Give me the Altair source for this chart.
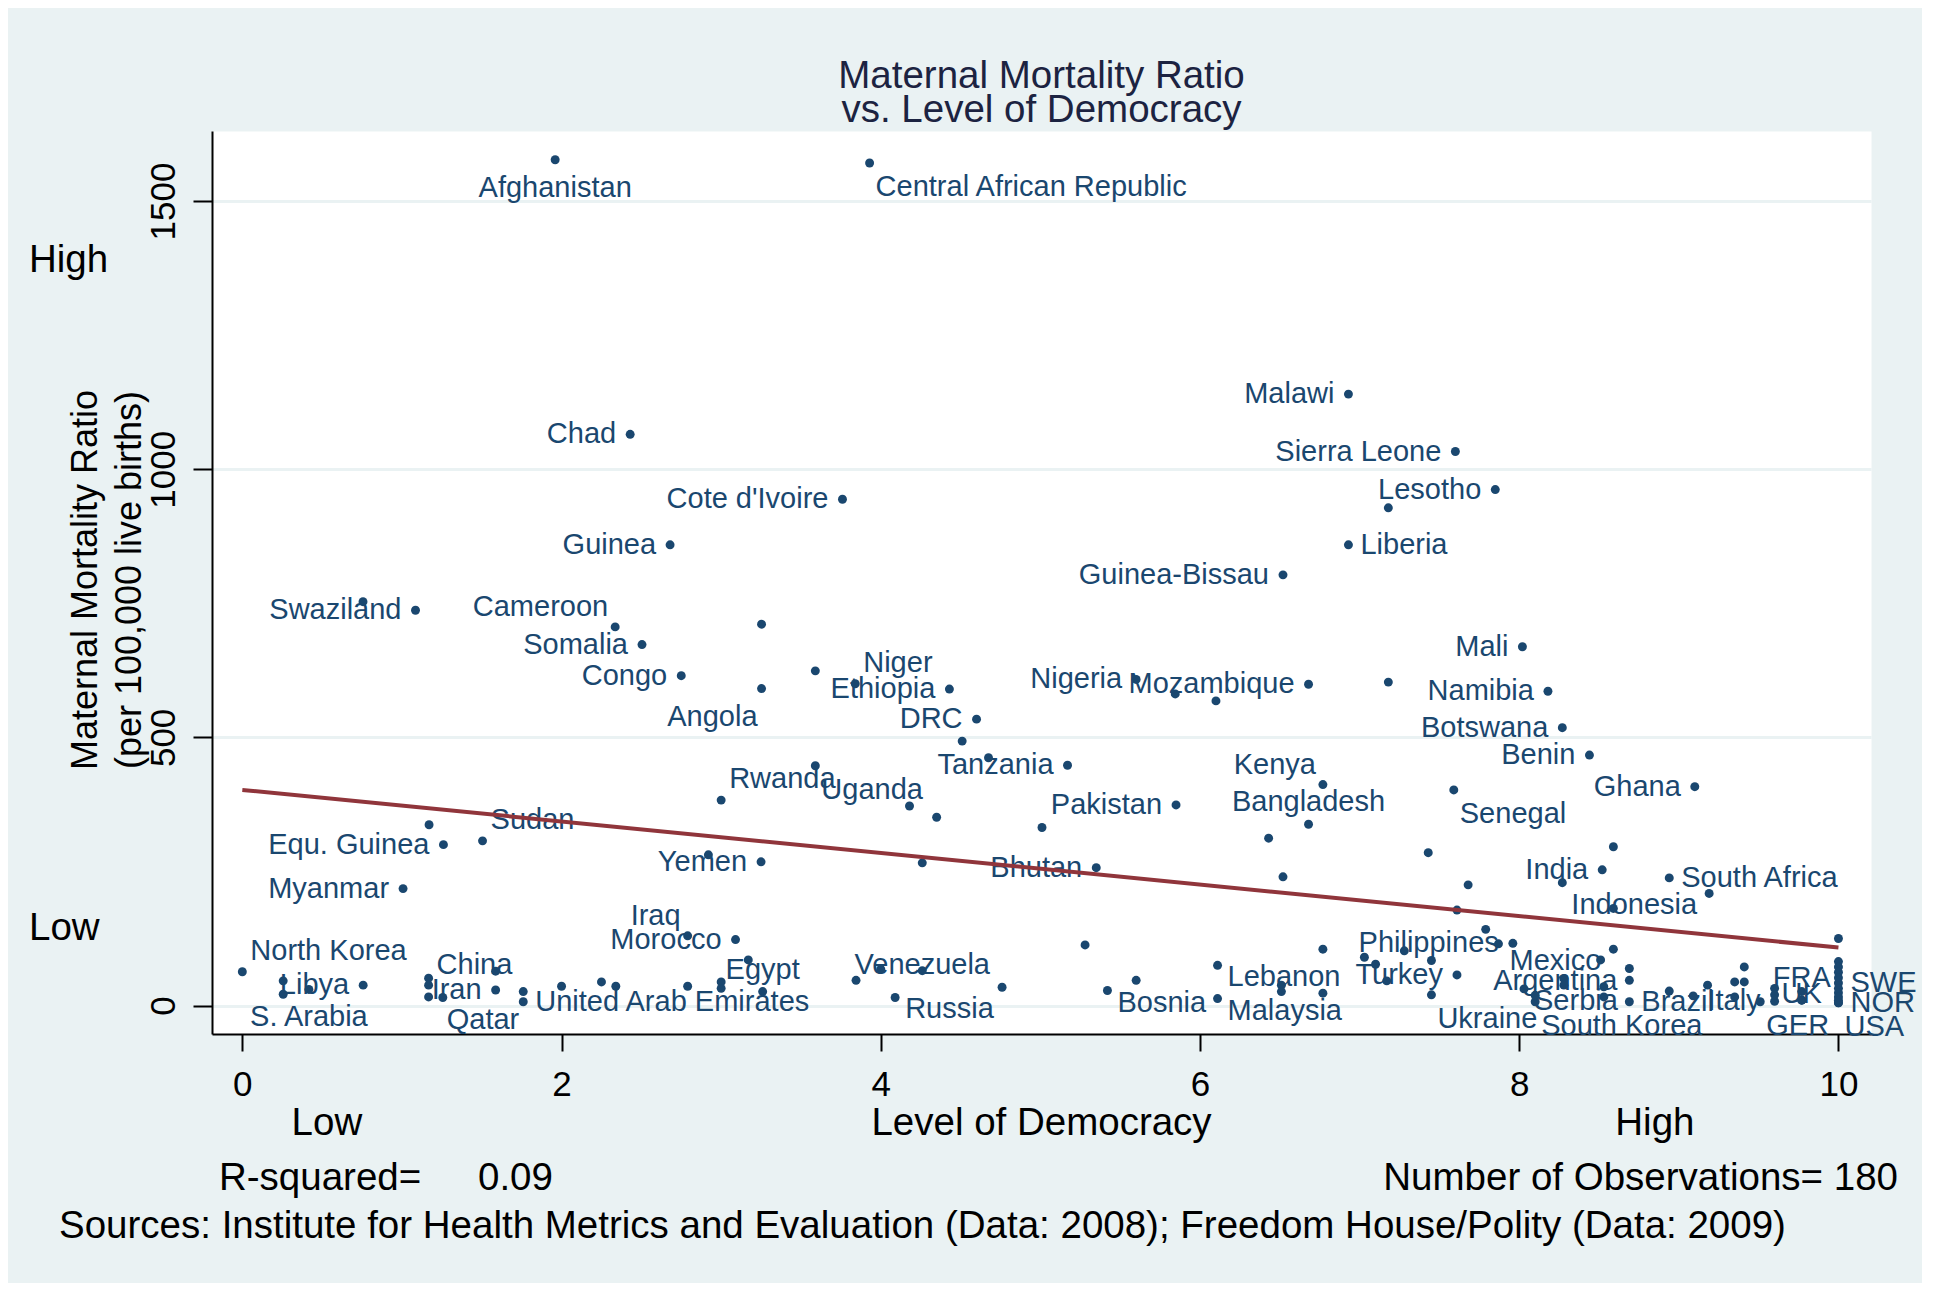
import altair as alt
import pandas as pd

# ---------------- data ----------------
names = ["Afghanistan", "Central African Republic", "Chad", "Cote d'Ivoire", "Guinea",
         "Malawi", "Sierra Leone", "Lesotho", "Liberia", "Guinea-Bissau",
         "Swaziland", "Cameroon", "Somalia", "Congo", "Angola",
         "Niger", "Ethiopia", "DRC", "Tanzania", "Nigeria",
         "Mozambique", "Rwanda", "Uganda", "Pakistan", "Kenya",
         "Bangladesh", "Bhutan", "Sudan", "Equ. Guinea", "Myanmar",
         "Yemen", "Iraq", "Morocco", "Egypt", "North Korea",
         "Libya", "S. Arabia", "China", "Iran", "Qatar",
         "United Arab Emirates", "Venezuela", "Russia", "Bosnia", "Lebanon",
         "Malaysia", "Philippines", "Turkey", "Ukraine", "Mali",
         "Namibia", "Botswana", "Benin", "Ghana", "Senegal",
         "India", "South Africa", "Indonesia", "Mexico", "Argentina",
         "Serbia", "South Korea", "Brazil", "Italy", "FRA",
         "UK", "GER", "SWE", "NOR", "USA"]
lab_x = [1.96, 3.93, 2.43, 3.76, 2.68, 6.93, 7.60, 7.85, 6.93, 6.52,
         1.085, 2.336, 2.504, 2.75, 3.253, 3.84, 4.43, 4.60, 5.17, 5.60,
         6.68, 3.0, 3.59, 5.85, 6.77, 6.68, 5.35, 1.505, 1.26, 1.007,
         3.25, 2.79, 3.09, 3.26, 0.0, 0.757, 0.417, 1.167, 1.587, 1.76,
         1.76, 4.26, 4.09, 5.42, 6.11, 6.11, 7.96, 7.61, 7.45, 8.02,
         8.18, 8.27, 8.44, 9.10, 7.59, 8.52, 8.94, 9.19, 8.59, 8.69,
         8.03, 8.10, 8.69, 9.60, 9.77, 9.77, 9.51, 10, 10, 10]
lab_y = [1577, 1571, 1065, 944, 859, 1140, 1033, 962, 859, 803,
         737, 706, 673, 615, 591, 600, 590, 534, 448, 608,
         599, 383, 447, 374, 412, 338, 257, 307, 300, 218,
         268, 130, 123, 26, 63, 38, 30, 51, 29, 26,
         7, 65, 15, 28, 75, 13, 116, 57, 20, 669,
         586, 518, 467, 408, 402, 253, 238, 209, 105, 69,
         31, 7, 7, 8, 10, 10, 7, 42, 5, 5]
# Stata-style clock position of each marker label (0 = on the marker)
lab_pos = [6, 5, 9, 9, 9, 9, 9, 9, 3, 9,
           9, 11, 9, 9, 7, 1, 9, 9, 9, 9,
           9, 1, 5, 9, 11, 12, 9, 1, 9, 9,
           9, 11, 9, 12, 1, 9, 6, 2, 9, 7,
           3, 0, 4, 4, 4, 4, 9, 9, 5, 9,
           9, 9, 9, 9, 5, 9, 3, 8, 8, 8,
           4, 5, 3, 9, 12, 0, 5, 3, 3, 5]

other_x = [0.756, 7.18, 3.253, 3.59, 4.51, 4.675, 5.845, 6.10, 7.18, 4.18,
           4.35, 1.17, 2.92, 5.01, 6.43, 6.52, 7.43, 4.26, 5.28, 6.77,
           7.03, 7.10, 7.28, 7.45, 7.17, 7.61, 7.79, 7.87, 8.59, 8.27,
           7.68, 8.59, 8.51, 8.28, 8.28, 8.53, 8.53, 8.69, 8.10, 8.94,
           9.09, 9.18, 9.35, 9.35, 9.41, 9.41, 9.60, 9.60, 10, 10,
           10, 10, 10, 10, 10, 10, 0.256, 0.256, 1.587, 1.167,
           1.167, 1.256, 2.0, 2.25, 2.34, 2.79, 3.0, 3.0, 3.17, 3.845,
           4.0, 4.76, 5.60, 6.51, 6.51, 6.77, 9.77, 10]
other_y = [753, 928, 711, 624, 493, 462, 581, 568, 603, 372,
           351, 337, 281, 332, 312, 240, 285, 266, 113, 105,
           90, 77, 102, 84, 46, 178, 142, 115, 296, 229,
           225, 181, 85, 50, 38, 35, 16, 47, 19, 27,
           18, 38, 44, 16, 72, 44, 32, 20, 125, 82,
           72, 62, 52, 32, 24, 10, 46, 21, 64, 38,
           16, 15, 36, 44, 36, 36, 44, 32, 85, 47,
           68, 34, 47, 38, 26, 23, 26, 16]

fit_x = [0, 10]
fit_y = [402, 108]

side_labels = ["High", "Low"]
side_y = [1390, 144]
bottom_labels = ["Low", "High"]
bottom_x = [0.53, 8.85]

x_ticks = [0, 2, 4, 6, 8, 10]
y_ticks = [0, 500, 1000, 1500]

title_lines = ["Maternal Mortality Ratio", "vs. Level of Democracy"]
y_title = "Maternal Mortality Ratio\n(per 100,000 live births)"
x_title = "Level of Democracy"
r2_label, r2_value = "R-squared=", "0.09"
n_obs = "Number of Observations= 180"
sources = ("Sources: Institute for Health Metrics and Evaluation (Data: 2008); "
           "Freedom House/Polity (Data: 2009)")

# ---------------- styling ----------------
W, H = 1659, 903
BG = "#EAF2F3"
GRID = "#EAF2F3"
NAVY = "#1A476F"
MAROON = "#90353B"
TXT = "#000000"
FONT = "Liberation Sans"
BIG = 38.5
LAB = 29

lab_df = pd.DataFrame({"name": names, "x": lab_x, "y": lab_y, "pos": lab_pos})
pts_df = pd.DataFrame({"x": lab_x + other_x, "y": lab_y + other_y})
fit_df = pd.DataFrame({"x": fit_x, "y": fit_y})

xscale = alt.Scale(domain=[-0.19, 10.204], nice=False, zero=False)
yscale = alt.Scale(domain=[-53.1, 1630.6], nice=False, zero=False)

xaxis = alt.Axis(values=x_ticks, title=None, grid=False, domainColor="black",
                 domainWidth=2, tickColor="black", tickWidth=2, tickSize=17,
                 labelFontSize=35, labelColor=TXT, labelFont=FONT,
                 labelPadding=44, labelBaseline="alphabetic", labelFlush=False,
                 format="d")
yaxis = alt.Axis(values=y_ticks, title=None, grid=True, gridColor=GRID,
                 gridWidth=3, domainColor="black", domainWidth=2,
                 tickColor="black", tickWidth=2, tickSize=19,
                 labelFontSize=35, labelColor=TXT, labelFont=FONT,
                 labelAngle=270, labelAlign="center",
                 labelBaseline="alphabetic", labelPadding=19,
                 labelFlush=False, format="d")

X = alt.X("x:Q", scale=xscale, axis=xaxis)
Y = alt.Y("y:Q", scale=yscale, axis=yaxis)

points = alt.Chart(pts_df).mark_circle(size=80, color=NAVY, opacity=1).encode(x=X, y=Y)

POS = {0: ("center", 0, -6), 1: ("left", 8, -21), 2: ("left", 8, -13),
       3: ("left", 12, 0), 4: ("left", 10, 12), 5: ("left", 6, 24),
       6: ("center", 0, 28), 7: ("right", -4, 28), 8: ("right", -12, 12),
       9: ("right", -14, 0), 11: ("right", -7, -20), 12: ("center", 0, -22)}

label_layers = []
for p in sorted(set(lab_pos)):
    al, dx, dy = POS[p]
    label_layers.append(
        alt.Chart(lab_df).transform_filter(alt.datum.pos == p)
        .mark_text(align=al, baseline="middle", dx=dx, dy=dy,
                   fontSize=LAB, font=FONT, color=NAVY)
        .encode(x=X, y=Y, text="name:N")
    )

fit = alt.Chart(fit_df).mark_line(color=MAROON, strokeWidth=4).encode(x=X, y=Y)

side_df = pd.DataFrame({"t": side_labels, "y": side_y})
side = alt.Chart(side_df).mark_text(align="left", baseline="middle", fontSize=BIG,
                                    font=FONT, color=TXT).encode(
    x=alt.value(-183), y=Y, text="t:N")

bot_df = pd.DataFrame({"t": bottom_labels, "x": bottom_x})
bottom = alt.Chart(bot_df).mark_text(align="center", baseline="alphabetic",
                                     fontSize=BIG, font=FONT, color=TXT).encode(
    x=X, y=alt.value(H + 101), text="t:N")


def note(txt, x, y, align="left", size=BIG, color=TXT, angle=0, line_height=None):
    kw = dict(align=align, baseline="alphabetic", fontSize=size, font=FONT, color=color)
    if angle:
        kw["angle"] = angle
        kw["baseline"] = "middle"
        kw["lineBreak"] = "\n"
        kw["lineHeight"] = line_height
    return alt.Chart(pd.DataFrame({"t": [txt]})).mark_text(**kw).encode(
        x=alt.value(x), y=alt.value(y), text="t:N")


notes = [
    note(title_lines[0], W / 2, -43, align="center", color="#1c2341"),
    note(title_lines[1], W / 2, -9, align="center", color="#1c2341"),
    note(y_title, -126, 449, align="center", size=36, angle=270, line_height=44),
    note(x_title, W / 2, H + 101, align="center"),
    note(r2_label, 7, H + 156),
    note(r2_value, 266, H + 156),
    note(n_obs, 1686, H + 156, align="right"),
    note(sources, -153, H + 204),
]

chart = alt.layer(points, *label_layers, fit, side, bottom, *notes).properties(
    width=W, height=H,
    padding={"left": 204, "top": 123, "right": 51, "bottom": 249},
    autosize=alt.AutoSizeParams(type="none"),
).configure(background=BG).configure_view(fill="white", stroke="transparent")

chart.save("out.html", embed_options={"renderer": "svg", "actions": False})
